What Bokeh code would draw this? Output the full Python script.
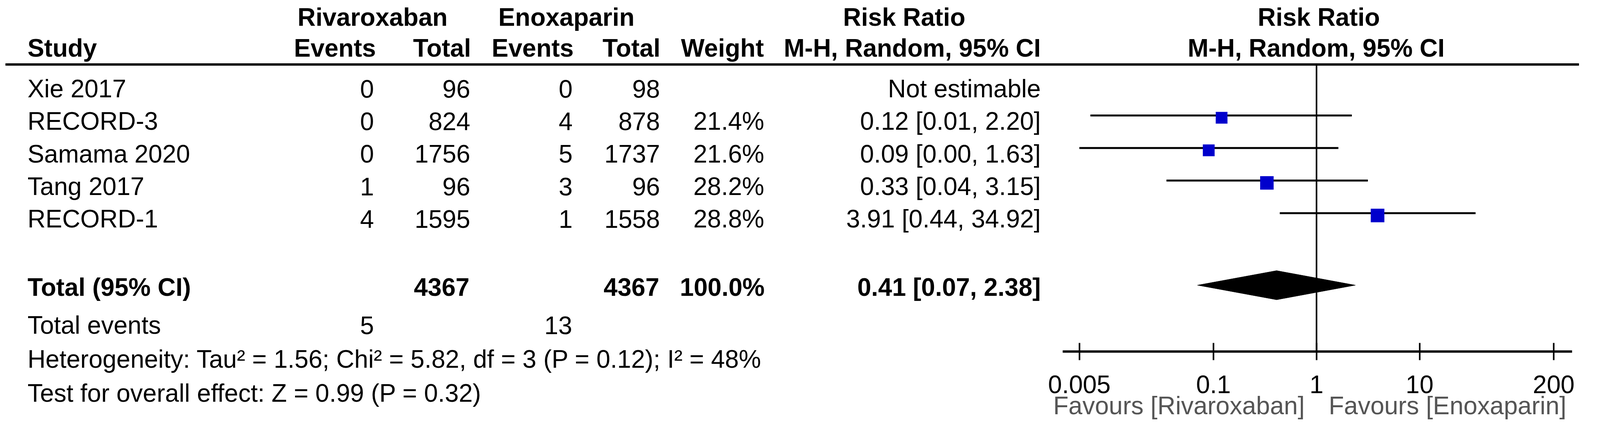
import math
from bokeh.plotting import figure
from bokeh.models import (Range1d, LogScale, LogAxis, FixedTicker,
                          CustomJSTickFormatter, ColumnDataSource)
from bokeh.core.properties import value
from bokeh.embed import file_html
from bokeh.resources import INLINE

# ---------------- data ----------------
studies = ["Xie 2017", "RECORD-3", "Samama 2020", "Tang 2017", "RECORD-1"]
riv_events = [0, 0, 0, 1, 4]
riv_total = [96, 824, 1756, 96, 1595]
enox_events = [0, 4, 5, 3, 1]
enox_total = [98, 878, 1737, 96, 1558]
weights = [None, 21.4, 21.6, 28.2, 28.8]
rr = [None, 0.12, 0.09, 0.33, 3.91]
ci_lo = [None, 0.0064, 0.005, 0.035, 0.44]
ci_hi = [None, 2.20, 1.63, 3.15, 34.92]
rr_labels = ["Not estimable", "0.12 [0.01, 2.20]", "0.09 [0.00, 1.63]",
             "0.33 [0.04, 3.15]", "3.91 [0.44, 34.92]"]

total_label = "Total (95% CI)"
total_riv = 4367
total_enox = 4367
total_weight = "100.0%"
total_rr = 0.41
total_lo = 0.07
total_hi = 2.38
total_rr_label = "0.41 [0.07, 2.38]"
events_label = "Total events"
events_riv = 5
events_enox = 13
heterogeneity = "Heterogeneity: Tau\u00b2 = 1.56; Chi\u00b2 = 5.82, df = 3 (P = 0.12); I\u00b2 = 48%"
overall = "Test for overall effect: Z = 0.99 (P = 0.32)"

axis_ticks = [0.005, 0.1, 1, 10, 200]
favours_left = "Favours [Rivaroxaban]"
favours_right = "Favours [Enoxaparin]"
header_groups = ["Rivaroxaban", "Enoxaparin", "Risk Ratio", "Risk Ratio"]
header_cols = ["Study", "Events", "Total", "Events", "Total", "Weight",
               "M-H, Random, 95% CI", "M-H, Random, 95% CI"]

# ---------------- layout ----------------
W, H = 4200, 1115
OX, OY = 8, 8
KX, KY = 1.027, 1.02        # observed page-to-picture scale
X1 = 3469                   # picture x of RR = 1
PPD = 271                   # picture pixels per decade
FONT = value("Liberation Sans")
FS = "64px"
MID = 22.7                  # baseline -> text middle (picture px)

p = figure(width=W, height=H,
           x_range=Range1d(OX * KX, (OX + W) * KX),
           y_range=Range1d((OY + H) * KY, OY * KY),
           output_backend="svg", toolbar_location=None, tools="",
           x_axis_location=None, y_axis_location=None, min_border=0)
p.outline_line_color = None
p.grid.visible = False
p.background_fill_color = "white"
p.border_fill_color = "white"

p.extra_x_ranges = {"rr": Range1d(10 ** ((OX * KX - X1) / PPD),
                                  10 ** (((OX + W) * KX - X1) / PPD))}
p.extra_x_scales = {"rr": LogScale()}


def txt(xs, bases, texts, align, bold=False, color="black"):
    src = ColumnDataSource(dict(x=xs, y=[b - MID for b in bases], text=texts))
    p.text(x="x", y="y", text="text", source=src, text_font=FONT, text_font_size=FS,
           text_align=align, text_baseline="middle",
           text_font_style="bold" if bold else "normal", text_color=color)


# header
HY1, HY2 = 75, 156
RULE_Y = HY2 + 20
txt([790, 1318], [HY1, HY1], header_groups[:2], "left", bold=True)
txt([2385, 3475], [HY1, HY1], header_groups[2:], "center", bold=True)
txt([80], [HY2], header_cols[:1], "left", bold=True)
txt([996, 1246, 1516, 1744, 2016, 2744], [HY2] * 6, header_cols[1:7], "right", bold=True)
txt([3468], [HY2], header_cols[7:], "center", bold=True)
p.segment(x0=[22], x1=[4159], y0=[RULE_Y], y1=[RULE_Y], line_width=6, line_color="black")

# study rows
ys = [262 + 85 * i for i in range(len(studies))]
n = len(studies)
txt([80] * n, ys, studies, "left")
txt([991] * n, ys, [str(v) for v in riv_events], "right")
txt([1244] * n, ys, [str(v) for v in riv_total], "right")
txt([1513] * n, ys, [str(v) for v in enox_events], "right")
txt([1743] * n, ys, [str(v) for v in enox_total], "right")
txt([2017] * n, ys, [f"{w:.1f}%" if w else "" for w in weights], "right")
txt([2744] * n, ys, rr_labels, "right")

# total row
TY = 780
txt([80], [TY], [total_label], "left", bold=True)
txt([1242, 1741], [TY, TY], [str(total_riv), str(total_enox)], "right", bold=True)
txt([2018], [TY], [total_weight], "right", bold=True)
txt([2744], [TY], [total_rr_label], "right", bold=True)

# events & tests
EY, HETY, TESTY = 879, 968, 1056
txt([80], [EY], [events_label], "left")
txt([991, 1512], [EY, EY], [str(events_riv), str(events_enox)], "right")
txt([80, 80], [HETY, TESTY], [heterogeneity, overall], "left")

# ---------------- forest plot ----------------
AX_Y = EY + 46
p.segment(x0=[1], x1=[1], y0=[RULE_Y], y1=[AX_Y], x_range_name="rr",
          line_width=4, line_color="black")

idx = [i for i in range(n) if rr[i] is not None]
forest = ColumnDataSource(dict(
    est=[rr[i] for i in idx],
    lo=[ci_lo[i] for i in idx],
    hi=[ci_hi[i] for i in idx],
    yl=[ys[i] - 38 for i in idx],
    ysq=[ys[i] - 32 for i in idx],
    size=[6.5 * math.sqrt(weights[i]) for i in idx],
))
p.segment(x0="lo", x1="hi", y0="yl", y1="yl", source=forest, x_range_name="rr",
          line_width=5, line_color="black")
p.scatter(x="est", y="ysq", size="size", marker="square", source=forest, x_range_name="rr",
          fill_color="#0000CC", line_color="#0000CC", line_width=0)

DY = TY - 28
p.patch(x=[total_lo, total_rr, total_hi, total_rr], y=[DY, DY - 38, DY, DY + 38],
        x_range_name="rr", fill_color="black", line_color="black", line_width=1)

ax = LogAxis(x_range_name="rr", fixed_location=AX_Y,
             bounds=(10 ** ((2802 - X1) / PPD), 10 ** ((4141 - X1) / PPD)),
             ticker=FixedTicker(ticks=axis_ticks, minor_ticks=[]),
             formatter=CustomJSTickFormatter(code="return tick.toString()"))
ax.axis_line_width = 6
ax.axis_line_color = "black"
ax.major_tick_line_width = 4
ax.major_tick_line_color = "black"
ax.major_tick_in = 22
ax.major_tick_out = 22
ax.minor_tick_line_color = None
ax.major_label_text_font = "Liberation Sans"
ax.major_label_text_font_size = FS
ax.major_label_text_color = "black"
ax.major_label_standoff = 40
p.add_layout(ax, "below")

FAVY = TESTY + 33
txt([3438], [FAVY], [favours_left], "right", color="#555555")
txt([3501], [FAVY], [favours_right], "left", color="#555555")

open("out.html", "w").write(file_html(p, INLINE))
